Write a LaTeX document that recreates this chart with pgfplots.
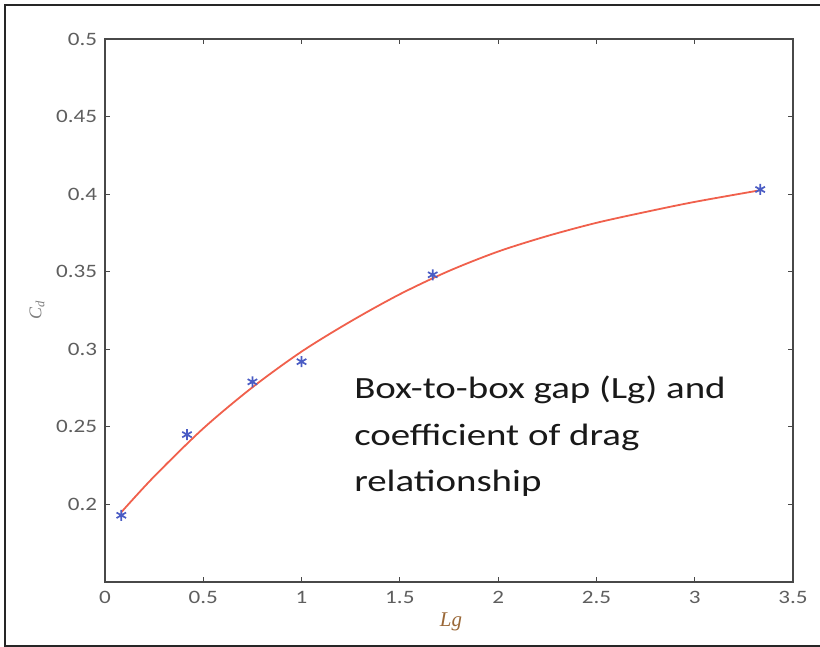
\documentclass[border=0pt]{standalone}
\usepackage{fontspec}
\setmainfont{Carlito}
\newfontfamily\serifit{Liberation Serif}
\usepackage{pgfplots}
\pgfplotsset{compat=1.18}
\definecolor{axgray}{HTML}{484848}
\definecolor{tickgray}{HTML}{5E5E5E}
\definecolor{fitred}{HTML}{F0604C}
\definecolor{ptblue}{HTML}{4A5CC4}
\definecolor{lgcol}{HTML}{9A6838}
\begin{document}
\begin{tikzpicture}[x=1bp,y=1bp]
\path[use as bounding box] (0,0) rectangle (820,647);
\draw[line width=2bp, black!85] (830,642) -- (5,642) -- (5,1) -- (830,1);
\begin{axis}[
  at={(105bp,65bp)}, anchor=south west,
  scale only axis, width=688bp, height=543bp,
  xmin=0, xmax=3.5, ymin=0.15, ymax=0.5,
  xtick={0,0.5,1,1.5,2,2.5,3,3.5},
  ytick={0.2,0.25,0.3,0.35,0.4,0.45,0.5},
  xticklabels={0,0.5,1,1.5,2,2.5,3,3.5},
  yticklabels={0.2,0.25,0.3,0.35,0.4,0.45,0.5},
  tick align=inside, major tick length=5bp,
  axis line style={axgray, line width=1.5bp},
  every tick/.style={axgray, line width=1.2bp},
  ticklabel style={font=\fontsize{19}{19}\selectfont, text=tickgray, xscale=1.22},
  yticklabel style={xshift=-3bp},
  xticklabel style={yshift=-6bp},
  /pgf/number format/assume math mode=true,
  clip=false,
]
\addplot[fitred, line width=1.8bp, smooth] coordinates {
(0.083,0.195) (0.25,0.218) (0.5,0.249) (0.75,0.2755) (1.0,0.2985)
(1.25,0.318) (1.5,0.3355) (1.75,0.3505) (2.0,0.3630) (2.25,0.3730)
(2.5,0.3815) (2.75,0.3885) (3.0,0.3950) (3.333,0.4025)};
\addplot[only marks, mark=asterisk, mark size=5.5bp, ptblue, line width=1.7bp] coordinates {
(0.083,0.193) (0.417,0.245) (0.75,0.279) (1.0,0.292) (1.667,0.348) (3.333,0.403)};
\end{axis}
\node[font=\serifit\itshape\fontsize{21}{21}\selectfont, text=lgcol] at (451,25) {Lg};
\node[font=\serifit\fontsize{18}{18}\selectfont, text=tickgray!80, rotate=90] at (37,337) {\itshape C\textsubscript{\itshape d}};
\begin{scope}[every node/.style={font=\fontsize{31}{31}\selectfont, text=black!90, anchor=base west, inner sep=0pt, xscale=1.26}]
\node at (354,248) {Box-to-box gap (Lg) and};
\node at (354,201) {coefficient of drag};
\node at (354,155) {relationship};
\end{scope}
\end{tikzpicture}
\end{document}
